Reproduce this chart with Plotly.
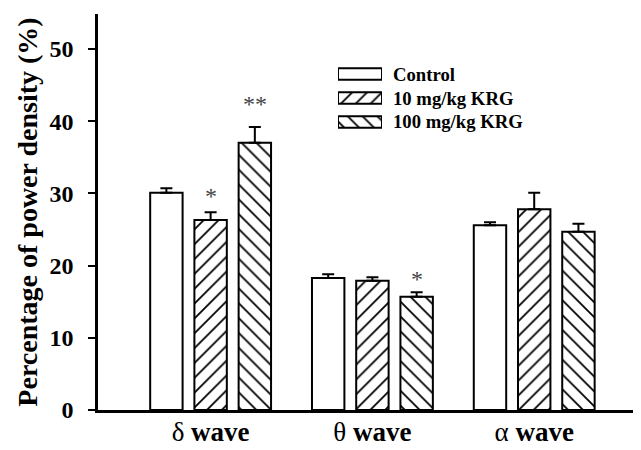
import plotly.graph_objects as go

categories = ["δ wave", "θ wave", "α wave"]
groups = ["Control", "10 mg/kg KRG", "100 mg/kg KRG"]
control = [30.1, 18.3, 25.6]
control_err = [0.6, 0.5, 0.4]
krg10 = [26.3, 17.9, 27.8]
krg10_err = [1.1, 0.5, 2.3]
krg100 = [37.0, 15.7, 24.7]
krg100_err = [2.2, 0.6, 1.1]
# significance marks: (category index, group index, label, y value)
marks = [(0, 1, "*", 29.6), (0, 2, "**", 42.4), (1, 2, "*", 18.2)]

FONT = "Liberation Serif"
x = list(range(len(categories)))
patterns = ["", "/", "\\"]
values = [control, krg10, krg100]
errors = [control_err, krg10_err, krg100_err]

fig = go.Figure()
for name, v, e, pat in zip(groups, values, errors, patterns):
    fig.add_trace(go.Bar(
        x=x, y=v, name=name,
        marker=dict(color="white", line=dict(color="black", width=2),
                    pattern=dict(shape=pat, fgcolor="black", bgcolor="white",
                                 size=10.5, solidity=0.17, fillmode="replace")),
        error_y=dict(type="data", symmetric=False, array=e, arrayminus=[0] * len(e),
                     color="black", thickness=2, width=6),
        showlegend=False,
    ))

# legend swatches drawn as horizontal bars on a small inset axis
for i, (name, pat) in enumerate(zip(groups, patterns)):
    fig.add_trace(go.Bar(
        x=[1], y=[i], orientation="h", xaxis="x2", yaxis="y2", width=0.48,
        marker=dict(color="white", line=dict(color="black", width=2),
                    pattern=dict(shape=pat, fgcolor="black", bgcolor="white",
                                 size=10.5, solidity=0.17, fillmode="replace")),
        showlegend=False, hoverinfo="skip",
    ))

bargap = 0.18
slot = (1 - bargap) / 3
annotations = []
for ci, gi, label, yv in marks:
    annotations.append(dict(x=ci + (gi - 1) * slot, y=yv, xref="x", yref="y",
                            text=label, showarrow=False, yanchor="middle",
                            font=dict(family=FONT, size=24, color="#444444")))

# page body adds an 8px offset; layout below is expressed in figure pixels
OFF = 8
W, H = 641 - OFF, 450
l, r, t, b = 98 - OFF, 0, 14 - OFF, H - (410 - OFF)
pw = W - l - r
ph = H - t - b


def px_x(sx):
    return (sx - OFF - l) / pw


def px_y(sy):
    return (H - b - (sy - OFF)) / ph


row_y = [74, 98, 122]
for i, name in enumerate(groups):
    annotations.append(dict(x=px_x(391), y=px_y(row_y[i]),
                            xref="paper", yref="paper", text=name,
                            showarrow=False, xanchor="left", yanchor="middle",
                            font=dict(family=FONT, size=18.7, color="black", weight="bold")))

ticktext = [c.split(" ")[0] + " <b>" + c.split(" ")[1] + "</b>" for c in categories]

fig.update_layout(
    template="none",
    width=W, height=H,
    margin=dict(l=l, r=r, t=t, b=b, autoexpand=False),
    paper_bgcolor="white", plot_bgcolor="white",
    barmode="group", bargap=bargap, bargroupgap=0.267,
    font=dict(family=FONT, color="black"),
    annotations=annotations,
    xaxis=dict(range=[-0.696, 2.66], tickvals=x, ticktext=ticktext,
               showline=True, linecolor="black", linewidth=2.5,
               ticks="", showgrid=False, zeroline=False, automargin=False,
               tickfont=dict(family=FONT, size=27, color="black"),
               ticklabelstandoff=-4, fixedrange=True),
    yaxis=dict(range=[0, 54.85], tickvals=[0, 10, 20, 30, 40, 50],
               showline=True, linecolor="black", linewidth=2.5,
               ticks="outside", ticklen=7, tickwidth=2, tickcolor="black",
               showgrid=False, zeroline=False, automargin=False,
               tickfont=dict(family=FONT, size=24, color="black", weight="bold"),
               ticklabelstandoff=10,
               title=dict(text="Percentage of power density (%)",
                          font=dict(family=FONT, size=28, color="black", weight="bold"),
                          standoff=4)),
    xaxis2=dict(domain=[px_x(338), px_x(382)], range=[0, 1],
                visible=False, anchor="y2", fixedrange=True),
    yaxis2=dict(domain=[px_y(134), px_y(62)], range=[2.5, -0.5],
                visible=False, anchor="x2", fixedrange=True),
)

fig.write_html("out.html")
